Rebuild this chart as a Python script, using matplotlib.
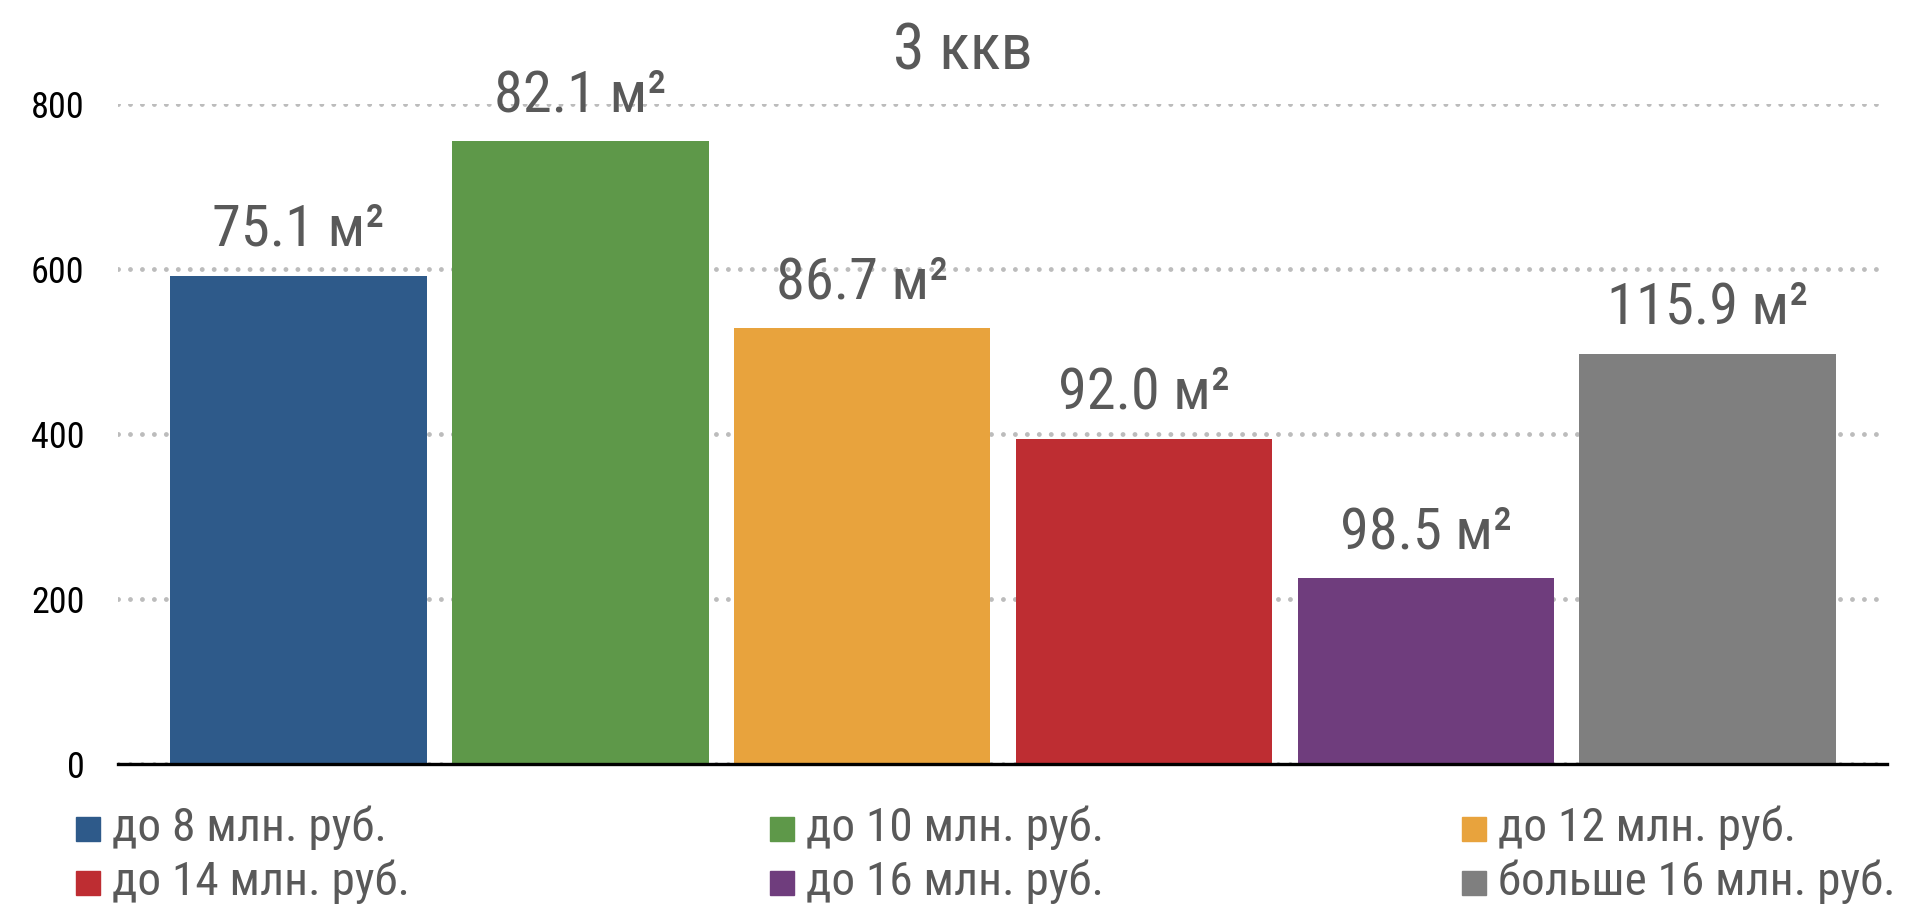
import matplotlib
matplotlib.use("Agg")
import matplotlib.pyplot as plt
from matplotlib import font_manager
from matplotlib.patches import Rectangle

# данные
categories = ["до 8 млн. руб.", "до 10 млн. руб.", "до 12 млн. руб.",
              "до 14 млн. руб.", "до 16 млн. руб.", "больше 16 млн. руб."]
values = [592, 755, 528, 394, 225, 497]
areas = ["75.1", "82.1", "86.7", "92.0", "98.5", "115.9"]
colors = ["#2E5A8A", "#5E9849", "#E8A33D", "#BE2D32", "#6F3D7D", "#7F7F7F"]
yticks = [0, 200, 400, 600, 800]

# ищем узкий шрифт
files = [f.fname for f in font_manager.fontManager.ttflist]
narrow = None
for key in ["RobotoCondensed-Regular", "LiberationSansNarrow-Regular",
            "DejaVuSansCondensed.ttf", "Condensed-Regular", "Narrow"]:
    hits = [p for p in files if key in p and "Bold" not in p and "Italic" not in p
            and "Oblique" not in p]
    if hits:
        narrow = hits[0]
        break

def fp(size):
    if narrow:
        return font_manager.FontProperties(fname=narrow, size=size)
    return font_manager.FontProperties(family="DejaVu Sans", size=size * 0.85)

W, H = 1905, 907
fig = plt.figure(figsize=(W / 100, H / 100), dpi=100)
ax = fig.add_axes([118 / W, 1 - 764 / H, (1887 - 118) / W, (764 - 104) / H])

x = list(range(len(values)))
ax.bar(x, values, width=0.91, color=colors, zorder=3)

for xi, v, a in zip(x, values, areas):
    ax.annotate(a + " м²", (xi, v), xytext=(0, 13), textcoords="offset points",
                ha="center", va="bottom", fontproperties=fp(42), color="#595959",
                annotation_clip=False)

ax.set_xlim(-0.64, 5.636)
ax.set_ylim(0, 800)
ax.set_yticks(yticks)
ax.set_yticklabels([str(t) for t in yticks])
for lab in ax.get_yticklabels():
    lab.set_fontproperties(fp(26))
    lab.set_color("black")
ax.set_xticks([])
ax.tick_params(axis="y", length=0, pad=24)
ax.yaxis.grid(True, color="#BCBCBC", linestyle=(0, (0.01, 2.45)), linewidth=3.5,
              dash_capstyle="round", zorder=0)
for s in ["top", "right", "left"]:
    ax.spines[s].set_visible(False)
ax.spines["bottom"].set_linewidth(2.4)
ax.spines["bottom"].set_color("black")
ax.spines["bottom"].set_zorder(4)

fig.text(963 / W, 1 - 70 / H, "3 ккв", ha="center", va="baseline",
         fontproperties=fp(46), color="#595959")

# легенда вручную, три колонки
col_x = [76, 770, 1462]
row_y = [841, 895]
for i, (name, c) in enumerate(zip(categories, colors)):
    cx = col_x[i % 3]
    cy = row_y[i // 3]
    fig.add_artist(Rectangle((cx / W, 1 - cy / H), 24 / W, 24 / H,
                             transform=fig.transFigure, color=c))
    fig.text((cx + 36) / W, 1 - cy / H, name, ha="left", va="baseline",
             fontproperties=fp(34), color="#595959")

fig.savefig("out.png", dpi=100)
